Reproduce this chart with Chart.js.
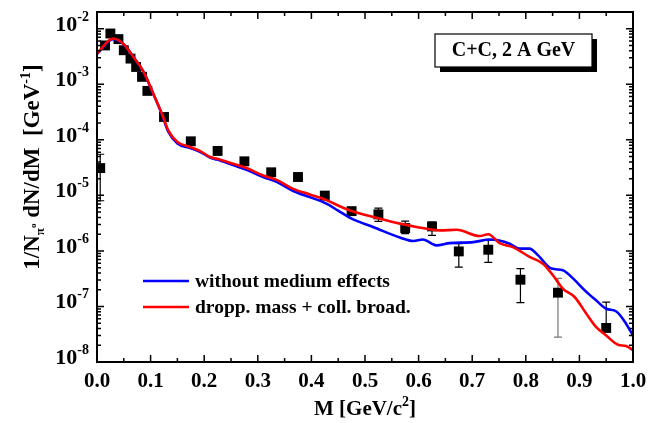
<!DOCTYPE html>
<html>
<head>
<meta charset="utf-8">
<script src="https://cdn.jsdelivr.net/npm/chart.js@4.4.1/dist/chart.umd.min.js"></script>
<style>
  body { margin: 0; background: #fff; }
  #wrap { width: 648px; height: 423px; }
</style>
</head>
<body>
<div id="wrap"><canvas id="dilepton" width="648" height="423"></canvas></div>
<script>
// measured spectrum (black squares)
const dataMass = [0.006, 0.015, 0.025, 0.04, 0.05, 0.0625, 0.073, 0.084, 0.094, 0.125,
  0.175, 0.225, 0.275, 0.325, 0.375, 0.425, 0.475, 0.525, 0.575, 0.625,
  0.675, 0.73, 0.79, 0.86, 0.95];
const dataYield = [3.1e-5, 5.0e-3, 8.2e-3, 6.5e-3, 4.1e-3, 2.9e-3, 2.05e-3, 1.36e-3, 7.6e-4, 2.58e-4,
  9.4e-5, 6.3e-5, 4.1e-5, 2.6e-5, 2.14e-5, 9.9e-6, 5.2e-6, 4.55e-6, 2.58e-6, 2.76e-6,
  9.8e-7, 1.05e-6, 3.03e-7, 1.77e-7, 4.1e-8];
// error bars: index -> [low, high]
const errIndex = [0, 17, 18, 19, 20, 21, 22, 23, 24];
const errLow = [8e-6, 3.4e-6, 2.04e-6, 1.9e-6, 5.1e-7, 6.2e-7, 1.17e-7, 2.8e-8, 4.1e-8];
const errHigh = [5.5e-5, 5.9e-6, 3.45e-6, 3.3e-6, 1.35e-6, 1.55e-6, 4.8e-7, 3.2e-7, 1.2e-7];
const errGray = [false, false, false, false, false, false, false, true, false];

// model without medium effects
const freeMass = [0.0, 0.03, 0.05, 0.068, 0.087, 0.105, 0.121, 0.133, 0.15, 0.174,
  0.192, 0.211, 0.224, 0.254, 0.279, 0.31, 0.335, 0.366, 0.397, 0.428,
  0.45, 0.475, 0.515, 0.565, 0.59, 0.608, 0.633, 0.658, 0.702, 0.733,
  0.77, 0.788, 0.807, 0.823, 0.848, 0.869, 0.888, 0.91, 0.931, 0.95,
  0.969, 0.987, 1.0];
const freeYield = [3.5e-3, 6.5e-3, 5.2e-3, 3.1e-3, 1.65e-3, 6.7e-4, 2.9e-4, 1.4e-4, 8.6e-5, 7.1e-5,
  6.1e-5, 4.8e-5, 4.4e-5, 3.5e-5, 2.9e-5, 2.14e-5, 1.75e-5, 1.2e-5, 9.3e-6, 7.1e-6,
  5.3e-6, 3.8e-6, 2.7e-6, 1.74e-6, 1.51e-6, 1.6e-6, 1.26e-6, 1.38e-6, 1.44e-6, 1.6e-6,
  1.35e-6, 1.1e-6, 1.1e-6, 8.3e-7, 4.8e-7, 4.5e-7, 3.2e-7, 1.95e-7, 1.29e-7, 9.1e-8,
  8.1e-8, 4.9e-8, 3.0e-8];

// dropping mass + collisional broadening
const medMass = [0.0, 0.03, 0.05, 0.068, 0.087, 0.105, 0.121, 0.133, 0.15, 0.174,
  0.192, 0.211, 0.224, 0.254, 0.279, 0.31, 0.335, 0.366, 0.397, 0.428,
  0.459, 0.487, 0.528, 0.565, 0.596, 0.64, 0.671, 0.714, 0.73, 0.751,
  0.776, 0.807, 0.832, 0.851, 0.869, 0.891, 0.913, 0.931, 0.95, 0.972,
  0.987, 1.0];
const medYield = [3.6e-3, 6.65e-3, 5.26e-3, 3.1e-3, 1.67e-3, 6.8e-4, 2.96e-4, 1.48e-4, 9.1e-5, 7.4e-5,
  6.3e-5, 4.9e-5, 4.56e-5, 3.7e-5, 3.1e-5, 2.28e-5, 1.9e-5, 1.31e-5, 1.04e-5, 8.2e-6,
  6.0e-6, 4.8e-6, 3.8e-6, 3.1e-6, 2.7e-6, 2.34e-6, 2.4e-6, 1.85e-6, 2.0e-6, 1.38e-6,
  1.17e-6, 7.8e-7, 5.9e-7, 3.6e-7, 2.1e-7, 1.48e-7, 7.4e-8, 4.3e-8, 3.0e-8, 2.05e-8,
  1.94e-8, 1.64e-8];

const xTickLabels = ['0.0', '0.1', '0.2', '0.3', '0.4', '0.5', '0.6', '0.7', '0.8', '0.9', '1.0'];
const yDecades = [-8, -7, -6, -5, -4, -3, -2];

const SERIF = '"Liberation Serif", "Times New Roman", serif';

function font(size) {
  return 'bold ' + size + 'px ' + SERIF;
}

// draws a run of text pieces with their own size and vertical shift
function drawRuns(ctx, runs, x, y, align) {
  let total = 0;
  runs.forEach(r => {
    ctx.font = font(r.size);
    r.w = ctx.measureText(r.t).width;
    total += r.w;
  });
  let cx = x;
  if (align === 'right') cx = x - total;
  if (align === 'center') cx = x - total / 2;
  ctx.textAlign = 'left';
  ctx.textBaseline = 'alphabetic';
  runs.forEach(r => {
    ctx.font = font(r.size);
    ctx.fillText(r.t, cx, y + (r.dy || 0));
    cx += r.w;
  });
}

const errorBars = {
  id: 'errorBars',
  beforeDatasetsDraw(chart) {
    const { ctx, scales: { x, y } } = chart;
    ctx.save();
    ctx.lineWidth = 1.2;
    errIndex.forEach((idx, k) => {
      const px = x.getPixelForValue(dataMass[idx]);
      const yl = y.getPixelForValue(errLow[k]);
      const yh = y.getPixelForValue(errHigh[k]);
      ctx.strokeStyle = errGray[k] ? '#777' : '#000';
      ctx.beginPath();
      ctx.moveTo(px, yl);
      ctx.lineTo(px, yh);
      ctx.moveTo(px - 4, yh);
      ctx.lineTo(px + 4, yh);
      if (errLow[k] < dataYield[idx]) {
        ctx.moveTo(px - 4, yl);
        ctx.lineTo(px + 4, yl);
      }
      ctx.stroke();
    });
    ctx.restore();
  }
};

const frame = {
  id: 'frame',
  afterDatasetsDraw(chart) {
    const { ctx, chartArea: a, scales: { x, y } } = chart;
    ctx.save();
    ctx.strokeStyle = '#000';
    ctx.fillStyle = '#000';

    // ticks on all four sides, pointing inward
    ctx.lineWidth = 1.5;
    ctx.beginPath();
    for (let i = 0; i <= 20; i++) {
      const px = x.getPixelForValue(i * 0.05);
      const len = i % 2 === 0 ? 7 : 4;
      ctx.moveTo(px, a.bottom);
      ctx.lineTo(px, a.bottom - len);
      ctx.moveTo(px, a.top);
      ctx.lineTo(px, a.top + len);
    }
    yDecades.forEach(d => {
      for (let m = 1; m <= 9; m++) {
        const v = m * Math.pow(10, d);
        if (v < y.min * 0.999 || v > y.max * 1.001) continue;
        const py = y.getPixelForValue(v);
        const len = m === 1 ? 7 : 4;
        ctx.moveTo(a.left, py);
        ctx.lineTo(a.left + len, py);
        ctx.moveTo(a.right, py);
        ctx.lineTo(a.right - len, py);
      }
    });
    ctx.stroke();

    ctx.lineWidth = 2;
    ctx.strokeRect(a.left, a.top, a.right - a.left, a.bottom - a.top);

    // tick labels
    xTickLabels.forEach((lab, i) => {
      const px = x.getPixelForValue(i / 10);
      ctx.font = font(21);
      ctx.textAlign = 'center';
      ctx.textBaseline = 'alphabetic';
      ctx.fillText(lab, px, a.bottom + 25);
    });
    yDecades.forEach(d => {
      const py = y.getPixelForValue(Math.pow(10, d));
      drawRuns(ctx, [{ t: '10', size: 22 }, { t: '-' + Math.abs(d), size: 14, dy: -10 }],
        a.left - 8, py + 2, 'right');
    });

    // axis titles
    drawRuns(ctx, [{ t: 'M [GeV/c', size: 21 }, { t: '2', size: 14, dy: -9 }, { t: ']', size: 21 }],
      (a.left + a.right) / 2, 415, 'center');
    ctx.save();
    ctx.translate(39, 167);
    ctx.rotate(-Math.PI / 2);
    drawRuns(ctx, [
      { t: '1/N', size: 23 },
      { t: 'π', size: 13, dy: 5 },
      { t: 'o', size: 9, dy: -3 },
      { t: ' dN/dM  [GeV', size: 23 },
      { t: '-1', size: 14, dy: -9 },
      { t: ']', size: 23 }
    ], 0, 0, 'center');
    ctx.restore();

    // legend
    const legend = [
      { color: '#0000ff', text: 'without medium effects', y: 281 },
      { color: '#ff0000', text: 'dropp. mass + coll. broad.', y: 307 }
    ];
    legend.forEach(l => {
      ctx.strokeStyle = l.color;
      ctx.lineWidth = 2.5;
      ctx.beginPath();
      ctx.moveTo(143, l.y);
      ctx.lineTo(189, l.y);
      ctx.stroke();
      ctx.font = font(19.5);
      ctx.textAlign = 'left';
      ctx.textBaseline = 'middle';
      ctx.fillStyle = '#000';
      ctx.fillText(l.text, 195, l.y + 1);
    });

    // system label with drop shadow
    ctx.fillStyle = '#000';
    ctx.fillRect(440, 39, 157, 33);
    ctx.fillStyle = '#fff';
    ctx.fillRect(435, 34, 157, 33);
    ctx.strokeStyle = '#000';
    ctx.lineWidth = 1.2;
    ctx.strokeRect(435, 34, 157, 33);
    ctx.fillStyle = '#000';
    ctx.font = font(20);
    ctx.textAlign = 'center';
    ctx.textBaseline = 'middle';
    ctx.fillText('C+C, 2 A GeV', 513.5, 51);

    ctx.restore();
  }
};

const toPoints = (xs, ys) => xs.map((m, i) => ({ x: m, y: ys[i] }));

new Chart(document.getElementById('dilepton'), {
  type: 'line',
  data: {
    datasets: [
      {
        label: 'dropp. mass + coll. broad.',
        data: toPoints(medMass, medYield),
        borderColor: '#ff0000',
        borderWidth: 2.6,
        pointRadius: 0,
        cubicInterpolationMode: 'monotone',
        order: 0
      },
      {
        label: 'without medium effects',
        data: toPoints(freeMass, freeYield),
        borderColor: '#0000ff',
        borderWidth: 2.6,
        pointRadius: 0,
        cubicInterpolationMode: 'monotone',
        order: 1
      },
      {
        label: 'data',
        data: toPoints(dataMass, dataYield),
        showLine: false,
        pointStyle: 'rect',
        pointRadius: 7,
        pointBackgroundColor: '#000',
        pointBorderWidth: 0,
        order: 2
      }
    ]
  },
  options: {
    responsive: false,
    devicePixelRatio: 1,
    animation: false,
    layout: { padding: { left: 97, right: 15, top: 12, bottom: 61 } },
    plugins: { legend: { display: false }, tooltip: { enabled: false } },
    scales: {
      x: { type: 'linear', min: 0, max: 1, display: false },
      y: { type: 'logarithmic', min: 1e-8, max: 0.02, display: false }
    }
  },
  plugins: [errorBars, frame]
});
</script>
</body>
</html>
